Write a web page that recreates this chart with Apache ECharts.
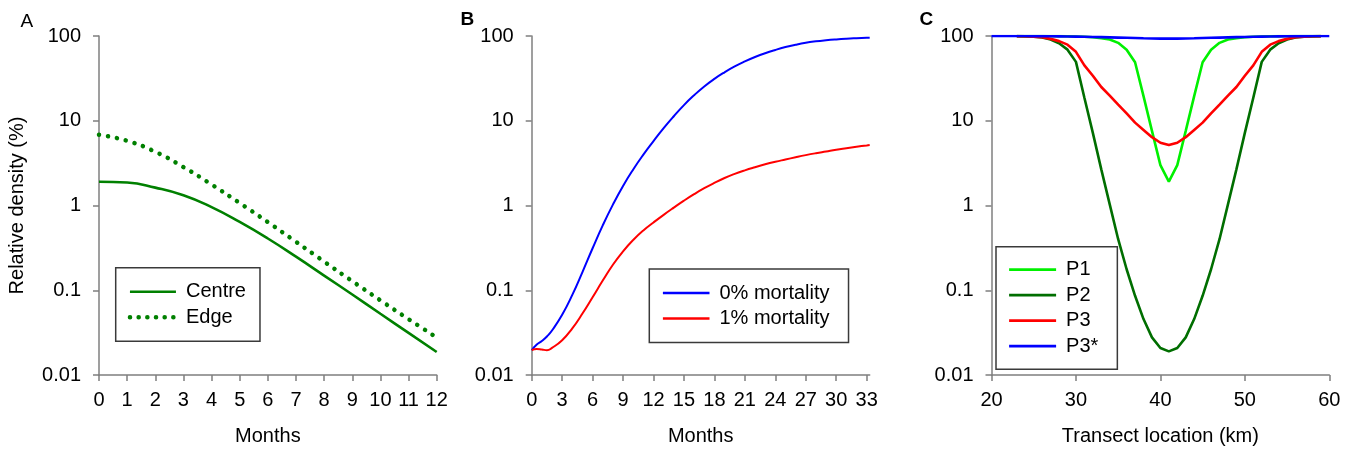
<!DOCTYPE html>
<html>
<head>
<meta charset="utf-8">
<script src="https://cdn.jsdelivr.net/npm/echarts@6/dist/echarts.min.js"></script>
<style>
html,body{margin:0;padding:0;background:#fff;}
#chart{width:1346px;height:452px;}
</style>
</head>
<body>
<div id="chart"></div>
<script>
// ---------- Data ----------
const monthsA = [0,1,2,3,4,5,6,7,8,9,10,11,12];
const centreA = [1.91,1.866,1.626,1.321,0.957,0.64,0.408,0.249,0.149,0.089,0.0528,0.0314,0.0187];
const edgeA   = [6.84,5.79,4.30,2.84,1.77,1.07,0.637,0.373,0.218,0.128,0.076,0.0456,0.0277];

const monthsB = [0,0.5,1,1.5,2,3,4,5,6,7,8,9,10,11,12,13,14,15,16,17,18,19,20,21,22,23,24,25,26,27,28,29,30,31,32,33,33.3];
const mort0 = [0.0196,0.0229,0.0252,0.0285,0.0335,0.0513,0.0881,0.164,0.313,0.582,1.023,1.70,2.66,3.98,5.75,8.17,11.3,15.3,20.0,25.4,31.2,37.3,43.7,50.1,56.5,62.7,68.5,74.0,78.9,83.2,86.5,89.1,91.2,92.9,94.2,95.3,95.5];
const mort1 = [0.0196,0.0203,0.0200,0.0196,0.0209,0.0257,0.0355,0.0531,0.0828,0.130,0.200,0.288,0.392,0.508,0.631,0.776,0.944,1.14,1.36,1.60,1.85,2.11,2.36,2.60,2.83,3.06,3.28,3.49,3.71,3.93,4.14,4.34,4.55,4.74,4.93,5.12,5.18];
const xTicksB = [0,3,6,9,12,15,18,21,24,27,30,33];

const kmC = [23,24,25,26,27,28,29,30,31,32,33,34,35,36,37,38,39,40,41,42,43,44,45,46,47,48,49,50,51,52,53,54,55,56,57,58,59];
const p1 = [100,100,100,99.9,99.8,99.6,99.3,98.8,98,96.6,94.4,91,83,69,49,19.5,7.6,3.0,1.91,3.0,7.6,19.5,49,69,83,91,94.4,96.6,98,98.8,99.3,99.6,99.8,99.9,100,100,100];
const p2 = [99.6,99,98,96,90.8,82,69,49.5,18.7,7.2,2.67,1.03,0.40,0.177,0.086,0.0457,0.0278,0.0208,0.019,0.0208,0.0278,0.0457,0.086,0.177,0.40,1.03,2.67,7.2,18.7,49.5,69,82,90.8,96,98,99,99.6];
const p3 = [99.7,99.3,98.4,96.5,92.5,87,79,65,45,34,25,19.8,15.5,12.2,9.5,7.8,6.4,5.5,5.16,5.5,6.4,7.8,9.5,12.2,15.5,19.8,25,34,45,65,79,87,92.5,96.5,98.4,99.3,99.7];
const kmStar = [20,21,22,23,24,25,26,27,28,29,30,31,32,33,34,35,36,37,38,39,40,41,42,43,44,45,46,47,48,49,50,51,52,53,54,55,56,57,58,59,60];
const p3s = [100,100,100,99.9,99.8,99.7,99.6,99.4,99.1,98.8,98.4,98,97.5,97,96.4,95.8,95.2,94.6,94,93.5,93.2,93,93.2,93.5,94,94.6,95.2,95.8,96.4,97,97.5,98,98.4,98.8,99.1,99.4,99.6,99.7,99.8,99.9,100];

const yTicks = [0.01,0.1,1,10,100];

// ---------- Helpers ----------
const zip = (xs, ys) => xs.map((x, i) => [x, ys[i]]);
const FONT = 'Liberation Sans, Arial, sans-serif';
const AXIS_COLOR = '#7f7f7f';
const C = {
  centre: '#008000', b0: '#0000ff', b1: '#ff0000',
  p1: '#00f000', p2: '#006e00', p3: '#ff0000', p3s: '#0000ff'
};
const DOTS = [0.1, 9.0];

function xAxisCfg(idx, min, max, interval, name, customTicks) {
  const a = {
    type: 'value', gridIndex: idx, min: min, max: max, interval: interval,
    name: name, nameLocation: 'middle', nameGap: 51,
    nameTextStyle: {fontSize: 20, color: '#000', fontFamily: FONT},
    axisLine: {show: true, lineStyle: {color: AXIS_COLOR, width: 1.5}},
    axisTick: {show: true, length: 6, inside: false, lineStyle: {color: AXIS_COLOR, width: 1.5}},
    axisLabel: {fontSize: 20, color: '#000', fontFamily: FONT, margin: 15},
    splitLine: {show: false}
  };
  if (customTicks) {
    a.axisLabel.customValues = customTicks;
    a.axisTick.customValues = customTicks;
  }
  return a;
}
function yAxisCfg(idx, name) {
  return {
    type: 'log', logBase: 10, gridIndex: idx, min: yTicks[0], max: yTicks[yTicks.length - 1],
    splitNumber: 4,
    name: name || '', nameLocation: 'middle', nameGap: 72,
    nameTextStyle: {fontSize: 20, color: '#000', fontFamily: FONT},
    axisLine: {show: true, lineStyle: {color: AXIS_COLOR, width: 1.5}},
    axisTick: {show: true, length: 6, lineStyle: {color: AXIS_COLOR, width: 1.5}},
    axisLabel: {fontSize: 20, color: '#000', fontFamily: FONT, margin: 18,
      formatter: v => String(parseFloat(Number(v).toPrecision(3)))},
    splitLine: {show: false},
    minorTick: {show: false}
  };
}
function lineSeries(name, xi, data, color, width, smooth, extraLine) {
  return {
    name: name, type: 'line', xAxisIndex: xi, yAxisIndex: xi,
    data: data, symbol: 'none', showSymbol: false,
    smooth: smooth ? 0.5 : false,
    lineStyle: Object.assign({color: color, width: width}, extraLine || {}),
    itemStyle: {color: color},
    animation: false, z: 3
  };
}
function legendItem(name, color, width, extra) {
  return {name: name, lineStyle: Object.assign({color: color, width: width, type: 'solid'}, extra || {})};
}
function legendCfg(left, top, items, padding, itemWidth) {
  return {
    left: left, top: top, orient: 'vertical', data: items,
    padding: padding, itemGap: 5.5, itemWidth: itemWidth, itemHeight: 14,
    borderColor: '#3a3a3a', borderWidth: 1.5, selectedMode: false,
    itemStyle: {opacity: 0},
    textStyle: {fontSize: 20, color: '#000', fontFamily: FONT, padding: [0, 0, 0, 5]}
  };
}

const option = {
  backgroundColor: '#fff',
  animation: false,
  title: [
    {text: 'A', left: 20.5, top: 12, padding: 0, textStyle: {fontSize: 19, fontWeight: 'normal', color: '#000', fontFamily: FONT}},
    {text: 'B', left: 460.5, top: 10, padding: 0, textStyle: {fontSize: 19, fontWeight: 'bold', color: '#000', fontFamily: FONT}},
    {text: 'C', left: 919.5, top: 10, padding: 0, textStyle: {fontSize: 19, fontWeight: 'bold', color: '#000', fontFamily: FONT}}
  ],
  grid: [
    {left: 99, top: 36, width: 337.7, height: 339, containLabel: false},
    {left: 531.7, top: 36, width: 338, height: 339, containLabel: false},
    {left: 991.5, top: 36, width: 337.8, height: 339, containLabel: false}
  ],
  xAxis: [
    xAxisCfg(0, 0, 12, 1, 'Months'),
    xAxisCfg(1, 0, 33.3, 3, 'Months', xTicksB),
    xAxisCfg(2, 20, 60, 10, 'Transect location (km)')
  ],
  yAxis: [
    yAxisCfg(0, 'Relative density (%)'),
    yAxisCfg(1),
    yAxisCfg(2)
  ],
  legend: [
    legendCfg(115.7, 267.7, [
      legendItem('Centre', C.centre, 2.6),
      legendItem('Edge', C.centre, 4.5, {type: [0.1, 8.57], cap: 'round'})
    ], [14, 14, 14, 12], 46),
    legendCfg(649.3, 269, [
      legendItem('0% mortality', C.b0, 2.4),
      legendItem('1% mortality', C.b1, 2.4)
    ], [14, 19, 14, 12.4], 46.6),
    legendCfg(996, 246.7, [
      legendItem('P1', C.p1, 2.8),
      legendItem('P2', C.p2, 2.8),
      legendItem('P3', C.p3, 2.8),
      legendItem('P3*', C.p3s, 2.8)
    ], [13, 19, 13, 11.7], 47)
  ],
  series: [
    lineSeries('Centre', 0, zip(monthsA, centreA), C.centre, 2.6, true),
    lineSeries('Edge', 0, zip(monthsA, edgeA), C.centre, 4.5, true, {type: DOTS, cap: 'round'}),
    lineSeries('0% mortality', 1, zip(monthsB, mort0), C.b0, 2, true),
    lineSeries('1% mortality', 1, zip(monthsB, mort1), C.b1, 2, true),
    lineSeries('P1', 2, zip(kmC, p1), C.p1, 2.6, false),
    lineSeries('P2', 2, zip(kmC, p2), C.p2, 2.6, false),
    lineSeries('P3', 2, zip(kmC, p3), C.p3, 2.6, false),
    lineSeries('P3*', 2, zip(kmStar, p3s), C.p3s, 2.6, false)
  ]
};

const chart = echarts.init(document.getElementById('chart'), null, {renderer: 'canvas'});
chart.setOption(option);
</script>
</body>
</html>
